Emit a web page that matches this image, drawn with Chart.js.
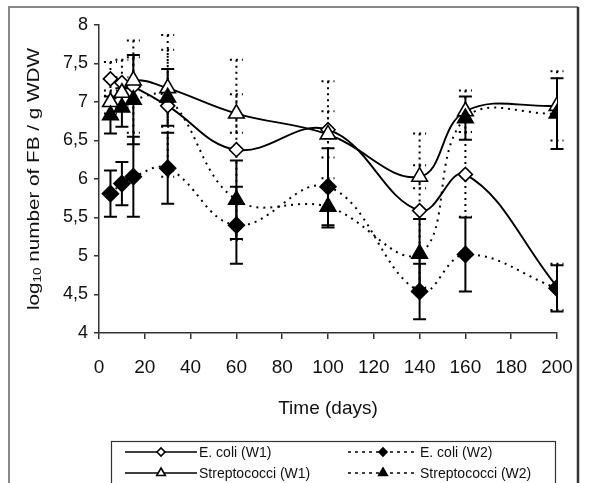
<!DOCTYPE html>
<html>
<head>
<meta charset="utf-8">
<script src="https://cdn.jsdelivr.net/npm/chart.js@4/dist/chart.umd.min.js"></script>
<style>
  body { margin: 0; background: #fff; }
  #wrap { position: relative; width: 592px; height: 483px; }
</style>
</head>
<body>
<div id="wrap"><canvas id="myChart" width="592" height="483"></canvas></div>
<script>
// values (log10 FB / g WDW)
const days = [5, 10, 15, 30, 60, 100, 140, 160, 200];
const ecoliW1 = [7.30, 7.25, 7.20, 6.95, 6.38, 6.64, 5.59, 6.06, 4.60];
const ecoliW2 = [5.81, 5.94, 6.03, 6.14, 5.40, 5.90, 4.54, 5.02, 4.58];
const streptoW1 = [7.00, 7.12, 7.28, 7.18, 6.85, 6.58, 6.03, 6.88, 6.95];
const streptoW2 = [6.83, 6.93, 7.03, 7.06, 5.73, 5.64, 5.03, 6.79, 6.85];

// error bar half widths
const ecoliW1Err = [0.22, 0.30, 0.60, 0.92, 1.17, 0.63, 1.00, 0.55, 0.30];
const ecoliW2Err = [0.30, 0.28, 0.52, 0.46, 0.50, 0.50, 0.36, 0.48, 0.30];
const streptoW1Err = [0.15, 0.20, 0.30, 0.50, 0.25, 0.30, 0.15, 0.27, 0.45];
const streptoW2Err = [0.24, 0.25, 0.58, 0.37, 0.51, 0.27, 0.45, 0.28, 0.46];

const yTickLabels = ['4', '4,5', '5', '5,5', '6', '6,5', '7', '7,5', '8'];
const xTitle = 'Time (days)';
const seriesNames = ['E. coli (W1)', 'E. coli (W2)', 'Streptococci (W1)', 'Streptococci (W2)'];

const toPoints = vals => days.map((d, i) => ({ x: d, y: vals[i] }));
const dotted = [2, 5];

function makeSet(name, vals, errs, style, filled, radius, dashed, order) {
    return {
        label: name,
        data: toPoints(vals),
        errors: errs,
        borderColor: '#000',
        borderWidth: dashed ? 2 : 1.9,
        borderDash: dashed ? dotted : [],
        tension: 0.4,
        pointStyle: style,
        pointRadius: radius,
        pointBorderWidth: 1.6,
        pointBorderColor: '#000',
        pointBackgroundColor: filled ? '#000' : '#fff',
        fill: false,
        order: order,
        // W1 series carry dotted error bars, W2 solid ones
        errDash: dashed ? [] : [2, 4]
    };
}

// error bars drawn through the y scale, under the markers
const errorBars = {
    id: 'errorBars',
    beforeDatasetsDraw(chart) {
        const { ctx, scales: { x, y } } = chart;
        chart.data.datasets.forEach(ds => {
            ctx.save();
            ctx.strokeStyle = '#000';
            ctx.lineWidth = 2;
            ctx.setLineDash(ds.errDash);
            ds.data.forEach((p, i) => {
                const e = ds.errors[i];
                const px = x.getPixelForValue(p.x);
                const top = y.getPixelForValue(p.y + e);
                const bot = y.getPixelForValue(p.y - e);
                ctx.beginPath();
                ctx.moveTo(px, top); ctx.lineTo(px, bot);
                ctx.moveTo(px - 6.5, top); ctx.lineTo(px + 6.5, top);
                ctx.moveTo(px - 6.5, bot); ctx.lineTo(px + 6.5, bot);
                ctx.stroke();
            });
            ctx.restore();
        });
    }
};

// y title with subscript, frame and legend box
const extras = {
    id: 'extras',
    afterDraw(chart) {
        const { ctx, chartArea } = chart;
        ctx.save();
        // outer frame
        ctx.strokeStyle = '#888';
        ctx.lineWidth = 2;
        ctx.beginPath();
        ctx.moveTo(9, 490); ctx.lineTo(9, 7); ctx.lineTo(578, 7);
        ctx.stroke();
        ctx.strokeStyle = '#333';
        ctx.lineWidth = 2.5;
        ctx.beginPath();
        ctx.moveTo(578, 7); ctx.lineTo(578, 490);
        ctx.stroke();

        // y axis title
        const big = '17px "Liberation Sans", Arial, sans-serif';
        const small = '11px "Liberation Sans", Arial, sans-serif';
        const a = 'log', sub = '10', b = ' number of FB / g WDW';
        ctx.font = big;
        const wa = ctx.measureText(a).width, wb = ctx.measureText(b).width;
        ctx.font = small;
        const ws = ctx.measureText(sub).width;
        const total = wa + ws + wb;
        const len = 262;
        ctx.translate(34, (chartArea.top + chartArea.bottom) / 2);
        ctx.rotate(-Math.PI / 2);
        ctx.scale(len / total, 1);
        ctx.fillStyle = '#111';
        ctx.textBaseline = 'middle';
        let cx = -total / 2;
        ctx.font = big; ctx.fillText(a, cx, 0); cx += wa;
        ctx.font = small; ctx.fillText(sub, cx, 4); cx += ws;
        ctx.font = big; ctx.fillText(b, cx, 0);
        ctx.restore();

        // legend
        ctx.save();
        ctx.strokeStyle = '#333';
        ctx.lineWidth = 1.2;
        ctx.strokeRect(111.5, 441.5, 444, 60);
        const cols = [{ x0: 125, x1: 197, tx: 199 }, { x0: 348, x1: 418, tx: 420 }];
        const rows = [452, 473];
        const sets = chart.data.datasets;
        sets.forEach((ds, i) => {
            const c = cols[i % 2], ry = rows[Math.floor(i / 2)];
            ctx.strokeStyle = '#000';
            ctx.lineWidth = 1.6;
            ctx.setLineDash(ds.borderDash.length ? [3, 4] : []);
            ctx.beginPath(); ctx.moveTo(c.x0, ry); ctx.lineTo(c.x1, ry); ctx.stroke();
            ctx.setLineDash([]);
            ctx.fillStyle = ds.pointBackgroundColor;
            Chart.helpers.drawPoint(ctx, {
                pointStyle: ds.pointStyle,
                radius: ds.pointStyle === 'triangle' ? 5 : 4,
                rotation: 0,
                borderWidth: 1.3
            }, (c.x0 + c.x1) / 2, ry);
            ctx.fillStyle = '#111';
            ctx.font = '14px "Liberation Sans", Arial, sans-serif';
            ctx.textBaseline = 'middle';
            ctx.fillText(seriesNames[i], c.tx, ry + 1);
        });
        ctx.restore();
    }
};

const ctx = document.getElementById('myChart').getContext('2d');

const myChart = new Chart(ctx, {
    type: 'line',
    data: {
        datasets: [
            makeSet(seriesNames[0], ecoliW1, ecoliW1Err, 'rectRot', false, 7, false, 4),
            makeSet(seriesNames[1], ecoliW2, ecoliW2Err, 'rectRot', true, 8, true, 3),
            makeSet(seriesNames[2], streptoW1, streptoW1Err, 'triangle', false, 9, false, 2),
            makeSet(seriesNames[3], streptoW2, streptoW2Err, 'triangle', true, 9, true, 1)
        ]
    },
    options: {
        responsive: false,
        animation: false,
        layout: { padding: { left: 0, right: 35, top: 25, bottom: 0 } },
        plugins: {
            legend: { display: false },
            tooltip: { enabled: false }
        },
        scales: {
            x: {
                type: 'linear',
                min: 0,
                max: 200,
                afterFit: s => { s.height = 150; },
                ticks: {
                    stepSize: 20,
                    color: '#111',
                    padding: 17,
                    maxRotation: 0,
                    font: { family: '"Liberation Sans", Arial, sans-serif', size: 19 }
                },
                grid: { drawOnChartArea: false, drawTicks: true, tickLength: 6, color: '#333', lineWidth: 1.5 },
                border: { display: true, color: '#333', width: 1.5 },
                title: {
                    display: true,
                    text: xTitle,
                    color: '#111',
                    font: { family: '"Liberation Sans", Arial, sans-serif', size: 19 },
                    padding: { top: 0, bottom: 63 }
                }
            },
            y: {
                min: 4,
                max: 8,
                afterFit: s => { s.width = 99; },
                ticks: {
                    stepSize: 0.5,
                    color: '#111',
                    padding: 6,
                    font: { family: '"Liberation Sans", Arial, sans-serif', size: 18 },
                    callback: (v, i) => yTickLabels[i]
                },
                grid: { drawOnChartArea: false, drawTicks: true, tickLength: 5, color: '#333', lineWidth: 1.5 },
                border: { display: true, color: '#333', width: 1.5 }
            }
        }
    },
    plugins: [errorBars, extras]
});
</script>
</body>
</html>
